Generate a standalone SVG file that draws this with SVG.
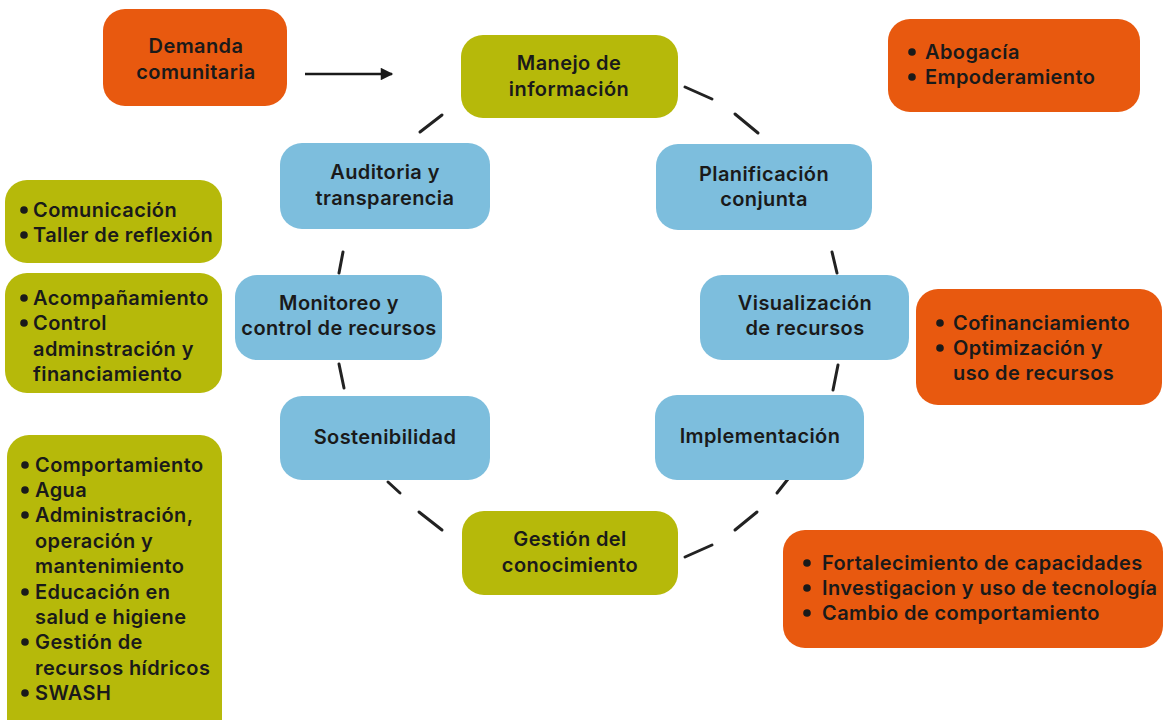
<svg xmlns="http://www.w3.org/2000/svg" width="1163" height="720" viewBox="0 0 1163 720">
<defs>
<marker id="ah" viewBox="0 0 10 10" refX="9" refY="5" markerWidth="6" markerHeight="5" markerUnits="strokeWidth" orient="auto">
<path d="M0,0 L10,5 L0,10 z" fill="#1a1a1a"/>
</marker>
<circle id="dot" r="3.8" fill="#1a1a1a"/>
<style>
.or{fill:#E8590F}
.gr{fill:#B6B90A}
.bl{fill:#7DBEDD}
text{font-family:Inter,"Open Sans","Liberation Sans",sans-serif;font-weight:600;font-size:20px;letter-spacing:0.4px;fill:#1a1a1a}
.c{text-anchor:middle}
.dash{stroke:#222;stroke-width:3;stroke-linecap:round;fill:none}
</style>
</defs>
<rect width="1163" height="720" fill="#fff"/>

<g id="connectors">
<line x1="305" y1="74" x2="392" y2="74" stroke="#1a1a1a" stroke-width="2.5" marker-end="url(#ah)"/>
<line class="dash" x1="420" y1="132" x2="442" y2="115"/>
<line class="dash" x1="685" y1="87" x2="712" y2="99"/>
<line class="dash" x1="735" y1="114" x2="758" y2="133"/>
<line class="dash" x1="343" y1="252" x2="339" y2="273"/>
<line class="dash" x1="339" y1="364" x2="344" y2="388"/>
<line class="dash" x1="832" y1="252" x2="837" y2="273"/>
<line class="dash" x1="838" y1="365" x2="833" y2="390"/>
<line class="dash" x1="388" y1="482" x2="400" y2="493"/>
<line class="dash" x1="419" y1="512" x2="442" y2="530"/>
<line class="dash" x1="685" y1="557" x2="712" y2="545"/>
<line class="dash" x1="735" y1="530" x2="757" y2="512"/>
<line class="dash" x1="777" y1="493" x2="788" y2="479"/>
</g>

<g id="demanda">
<rect class="or" x="103" y="9" width="184" height="97" rx="22"/>
<text class="c"><tspan x="196" y="53">Demanda</tspan><tspan x="196" y="79">comunitaria</tspan></text>
</g>

<g id="manejo">
<rect class="gr" x="461" y="35" width="217" height="83" rx="22"/>
<text class="c"><tspan x="569" y="70">Manejo de</tspan><tspan x="569" y="96">información</tspan></text>
</g>

<g id="abogacia">
<rect class="or" x="888" y="19" width="252" height="93" rx="22"/>
<use href="#dot" x="912" y="52"/>
<use href="#dot" x="912" y="77"/>
<text><tspan x="925" y="59">Abogacía</tspan><tspan x="925" y="84">Empoderamiento</tspan></text>
</g>

<g id="auditoria">
<rect class="bl" x="280" y="143" width="210" height="86" rx="22"/>
<text class="c"><tspan x="385" y="179">Auditoria y</tspan><tspan x="385" y="205">transparencia</tspan></text>
</g>

<g id="planificacion">
<rect class="bl" x="656" y="144" width="216" height="86" rx="22"/>
<text class="c"><tspan x="764" y="181">Planificación</tspan><tspan x="764" y="206">conjunta</tspan></text>
</g>

<g id="comunicacion">
<rect class="gr" x="5" y="180" width="217" height="83" rx="22"/>
<use href="#dot" x="24" y="210"/>
<use href="#dot" x="24" y="235"/>
<text><tspan x="33" y="217">Comunicación</tspan><tspan x="33" y="242">Taller de reflexión</tspan></text>
</g>

<g id="acompanamiento">
<rect class="gr" x="5" y="273" width="217" height="120" rx="22"/>
<use href="#dot" x="24" y="298"/>
<use href="#dot" x="24" y="323"/>
<text><tspan x="33" y="305">Acompañamiento</tspan><tspan x="33" y="330">Control</tspan><tspan x="33" y="356">adminstración y</tspan><tspan x="33" y="381">financiamiento</tspan></text>
</g>

<g id="monitoreo">
<rect class="bl" x="235" y="275" width="207" height="85" rx="22"/>
<text class="c"><tspan x="339" y="310">Monitoreo y</tspan><tspan x="339" y="335">control de recursos</tspan></text>
</g>

<g id="visualizacion">
<rect class="bl" x="700" y="275" width="209" height="85" rx="22"/>
<text class="c"><tspan x="805" y="310">Visualización</tspan><tspan x="805" y="335">de recursos</tspan></text>
</g>

<g id="cofinanciamiento">
<rect class="or" x="916" y="289" width="246" height="116" rx="22"/>
<use href="#dot" x="940" y="323"/>
<use href="#dot" x="940" y="348"/>
<text><tspan x="953" y="330">Cofinanciamiento</tspan><tspan x="953" y="355">Optimización y</tspan><tspan x="953" y="380">uso de recursos</tspan></text>
</g>

<g id="sostenibilidad">
<rect class="bl" x="280" y="396" width="210" height="84" rx="22"/>
<text class="c" x="385" y="444">Sostenibilidad</text>
</g>

<g id="implementacion">
<rect class="bl" x="655" y="395" width="209" height="85" rx="22"/>
<text class="c" x="760" y="443">Implementación</text>
</g>

<g id="comportamiento">
<rect class="gr" x="7" y="435" width="215" height="310" rx="22"/>
<use href="#dot" x="25" y="465"/>
<use href="#dot" x="25" y="490"/>
<use href="#dot" x="25" y="515"/>
<use href="#dot" x="25" y="592"/>
<use href="#dot" x="25" y="642"/>
<use href="#dot" x="25" y="693"/>
<text><tspan x="35" y="472">Comportamiento</tspan><tspan x="35" y="497">Agua</tspan><tspan x="35" y="522">Administración,</tspan><tspan x="35" y="548">operación y</tspan><tspan x="35" y="573">mantenimiento</tspan><tspan x="35" y="599">Educación en</tspan><tspan x="35" y="624">salud e higiene</tspan><tspan x="35" y="649">Gestión de</tspan><tspan x="35" y="675">recursos hídricos</tspan><tspan x="35" y="700">SWASH</tspan></text>
</g>

<g id="gestion">
<rect class="gr" x="462" y="511" width="216" height="84" rx="22"/>
<text class="c"><tspan x="570" y="546">Gestión del</tspan><tspan x="570" y="572">conocimiento</tspan></text>
</g>

<g id="fortalecimiento">
<rect class="or" x="783" y="530" width="380" height="118" rx="22"/>
<use href="#dot" x="807" y="563"/>
<use href="#dot" x="807" y="588"/>
<use href="#dot" x="807" y="613"/>
<text><tspan x="822" y="570">Fortalecimiento de capacidades</tspan><tspan x="822" y="595">Investigacion y uso de tecnología</tspan><tspan x="822" y="620">Cambio de comportamiento</tspan></text>
</g>
</svg>
